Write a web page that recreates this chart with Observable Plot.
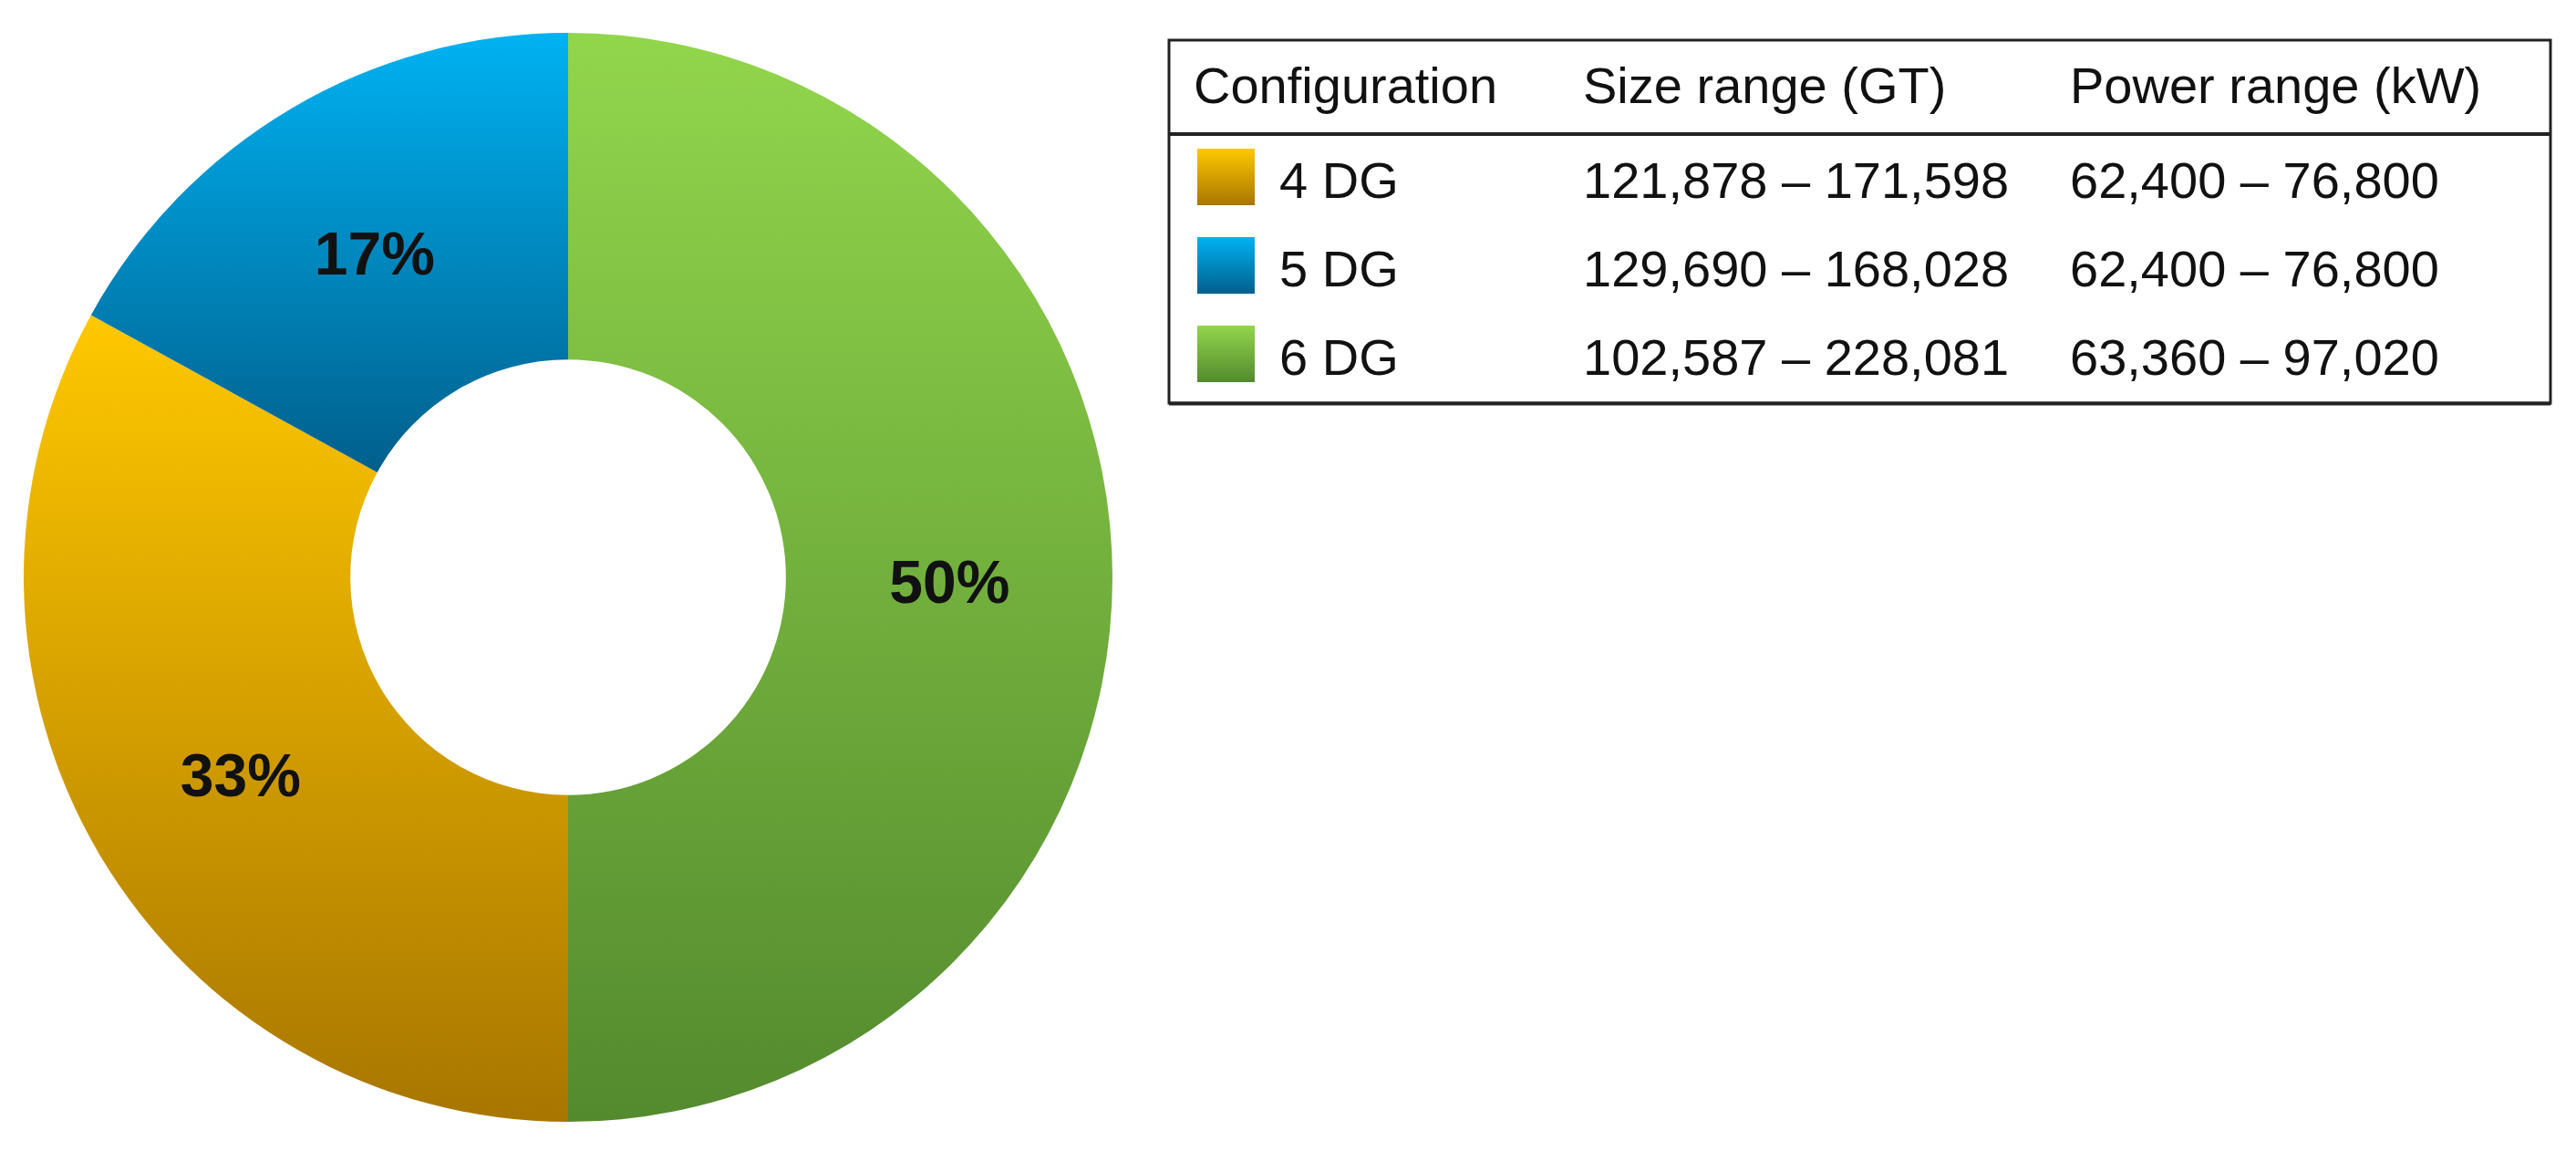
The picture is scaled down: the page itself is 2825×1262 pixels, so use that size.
<!DOCTYPE html>
<html>
<head>
<meta charset="utf-8">
<script src="https://cdn.jsdelivr.net/npm/d3@7"></script>
<script src="https://cdn.jsdelivr.net/npm/@observablehq/plot@0.6"></script>
<style>
  html, body { margin: 0; padding: 0; background: #fff; }
  #wrap { position: relative; width: 2825px; height: 1262px; overflow: hidden; font-family: "Liberation Sans", Arial, sans-serif; }
  #chart { position: absolute; left: 0; top: 0; }
  #legend { position: absolute; left: 0; top: 0; pointer-events: none; }
</style>
</head>
<body>
<div id="wrap">
  <div id="chart"></div>
  <svg id="legend" width="2825" height="1262"></svg>
</div>
<script>
// ---------------- data ----------------
const configurations = ["4 DG", "5 DG", "6 DG"];
const shares = [33, 17, 50];                       // percent of fleet
const sizeRanges = ["121,878 – 171,598", "129,690 – 168,028", "102,587 – 228,081"];
const powerRanges = ["62,400 – 76,800", "62,400 – 76,800", "63,360 – 97,020"];
const headers = ["Configuration", "Size range (GT)", "Power range (kW)"];
const clockwiseOrder = ["6 DG", "4 DG", "5 DG"];  // slice order from 12 o'clock

// ---------------- styling ----------------
const palette = {
  top:    { "4 DG": "#FFC800", "5 DG": "#00B2F2", "6 DG": "#92D64C" },
  bottom: { "4 DG": "#A87600", "5 DG": "#005F8C", "6 DG": "#538A2E" }
};
const holeRatio = 0.40;
const labelRatio = 0.70;
const font = "Liberation Sans, Arial, sans-serif";

// ---------------- slices ----------------
const ordered = clockwiseOrder.map(c => {
  const i = configurations.indexOf(c);
  return { config: c, share: shares[i] };
});
const slices = d3.pie().sort(null).value(d => d.share)(ordered).map(p => ({
  config: p.data.config,
  share: p.data.share,
  start: p.startAngle,
  end: p.endAngle,
  mid: (p.startAngle + p.endAngle) / 2
}));

function donutMark(index, scales) {
  const cx = scales.x(0), cy = scales.y(0);
  const R = Math.abs(scales.x(1) - scales.x(0));
  const g = d3.create("svg:g");
  const defs = g.append("defs");
  const arc = d3.arc().innerRadius(R * holeRatio).outerRadius(R);
  slices.forEach((s, k) => {
    const id = "slice-grad-" + k;
    const lg = defs.append("linearGradient").attr("id", id)
      .attr("x1", 0).attr("y1", 0).attr("x2", 0).attr("y2", 1);
    lg.append("stop").attr("offset", "0%").attr("stop-color", palette.top[s.config]);
    lg.append("stop").attr("offset", "100%").attr("stop-color", palette.bottom[s.config]);
    g.append("path")
      .attr("transform", `translate(${cx},${cy})`)
      .attr("d", arc({ startAngle: s.start, endAngle: s.end }))
      .attr("fill", `url(#${id})`);
  });
  return g.node();
}

const chart = Plot.plot({
  width: 1250,
  height: 1262,
  margin: 0,
  style: { background: "transparent", overflow: "visible" },
  x: { domain: [-1, 1], range: [26, 1220], axis: null },
  y: { domain: [-1, 1], range: [1230, 36], axis: null },
  marks: [
    donutMark,
    Plot.text(slices, {
      x: d => labelRatio * Math.sin(d.mid),
      y: d => labelRatio * Math.cos(d.mid),
      text: d => d.share + "%",
      fontSize: 66,
      fontWeight: "bold",
      fontFamily: font,
      fill: "#111",
      dy: 6
    })
  ]
});
document.getElementById("chart").append(chart);

// ---------------- legend table ----------------
const L = d3.select("#legend");
const box = { left: 1282, top: 44, right: 2797, bottom: 442, headerLine: 147 };
const colX = [1309, 1736, 2270];
const headerBaseline = 113;
const rowBaselines = [217, 314, 411];
const swatch = { x: 1313, size: 62, textX: 1403 };

const ldefs = L.append("defs");
configurations.forEach((c, i) => {
  const lg = ldefs.append("linearGradient").attr("id", "sw-grad-" + i)
    .attr("x1", 0).attr("y1", 0).attr("x2", 0).attr("y2", 1);
  lg.append("stop").attr("offset", "0%").attr("stop-color", palette.top[c]);
  lg.append("stop").attr("offset", "100%").attr("stop-color", palette.bottom[c]);
});

L.append("rect")
  .attr("x", box.left).attr("y", box.top)
  .attr("width", box.right - box.left).attr("height", box.bottom - box.top)
  .attr("fill", "#fff").attr("stroke", "#222").attr("stroke-width", 3);
L.append("line")
  .attr("x1", box.left).attr("x2", box.right)
  .attr("y1", box.headerLine).attr("y2", box.headerLine)
  .attr("stroke", "#222").attr("stroke-width", 4);
L.append("line")
  .attr("x1", box.left).attr("x2", box.right)
  .attr("y1", box.bottom + 0.5).attr("y2", box.bottom + 0.5)
  .attr("stroke", "#222").attr("stroke-width", 4);

headers.forEach((h, j) => {
  L.append("text").attr("x", colX[j]).attr("y", headerBaseline)
    .attr("font-family", font).attr("font-size", 56).attr("fill", "#111").text(h);
});

configurations.forEach((c, i) => {
  const b = rowBaselines[i];
  L.append("rect")
    .attr("x", swatch.x).attr("y", b - 54)
    .attr("width", swatch.size + 1).attr("height", swatch.size)
    .attr("fill", `url(#sw-grad-${i})`);
  L.append("text").attr("x", swatch.textX).attr("y", b)
    .attr("font-family", font).attr("font-size", 56).attr("fill", "#111").text(c);
  L.append("text").attr("x", colX[1]).attr("y", b)
    .attr("font-family", font).attr("font-size", 56).attr("fill", "#111").text(sizeRanges[i]);
  L.append("text").attr("x", colX[2]).attr("y", b)
    .attr("font-family", font).attr("font-size", 56).attr("fill", "#111").text(powerRanges[i]);
});
</script>
</body>
</html>
